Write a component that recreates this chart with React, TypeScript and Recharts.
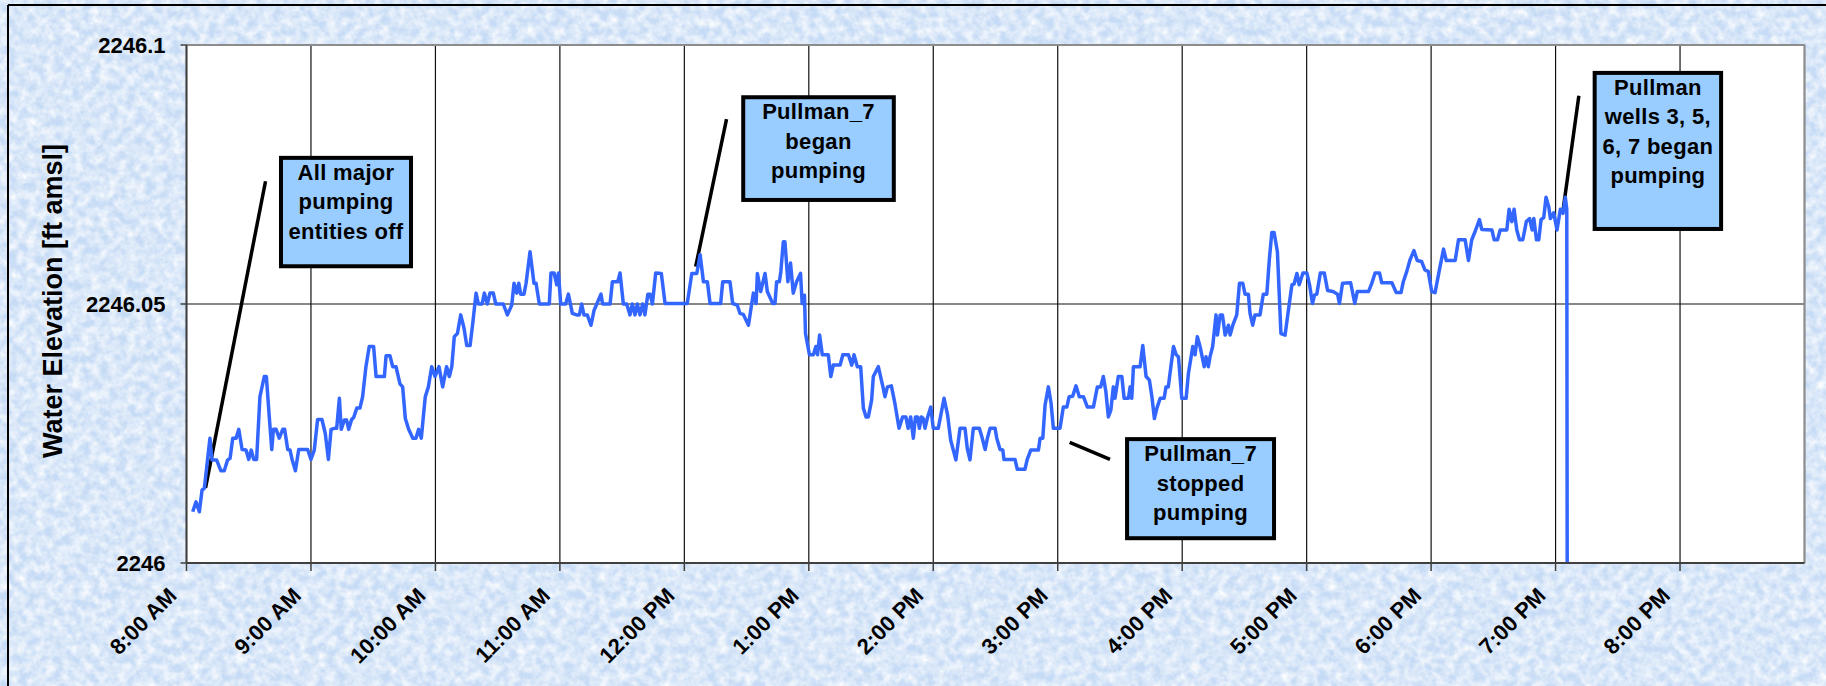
import React from 'react';
import { LineChart, Line, XAxis, YAxis, CartesianGrid, ReferenceLine, ReferenceArea } from 'recharts';

const FONT = '"Liberation Sans", Arial, Helvetica, sans-serif';

const hourTicks = [8, 9, 10, 11, 12, 13, 14, 15, 16, 17, 18, 19, 20];
const hourLabels = [
  '8:00 AM', '9:00 AM', '10:00 AM', '11:00 AM', '12:00 PM', '1:00 PM', '2:00 PM',
  '3:00 PM', '4:00 PM', '5:00 PM', '6:00 PM', '7:00 PM', '8:00 PM',
];
const elevTicks = [2246, 2246.05, 2246.1];
const elevLabels = ['2246', '2246.05', '2246.1'];

// [minutes after 8:00 AM, water elevation ft amsl]
const morning: [number, number][] = [
  [3.0, 2246.0099], [4.6, 2246.0118], [6.2, 2246.0099], [7.5, 2246.0141], [8.6, 2246.0144],
  [11.3, 2246.0241], [12.3, 2246.0199], [14.5, 2246.0199], [16.6, 2246.0178], [18.2, 2246.0178],
  [19.8, 2246.0199], [21.0, 2246.0202], [22.3, 2246.0241], [23.9, 2246.0241], [25.2, 2246.0258],
  [26.8, 2246.0219], [28.7, 2246.0218], [30.0, 2246.02], [31.2, 2246.0218], [32.4, 2246.02],
  [33.8, 2246.02], [35.4, 2246.0321], [37.5, 2246.036], [38.5, 2246.036], [39.9, 2246.0282],
  [41.1, 2246.0219], [41.9, 2246.0258], [43.2, 2246.0258], [44.7, 2246.0241], [46.4, 2246.0258],
  [47.3, 2246.0258], [48.8, 2246.0219], [49.9, 2246.0218], [50.9, 2246.02], [52.5, 2246.0178],
  [54.1, 2246.0219], [58.4, 2246.0219], [60.0, 2246.02], [61.6, 2246.0218], [63.2, 2246.0277],
  [65.3, 2246.0277], [66.9, 2246.025], [68.4, 2246.02], [69.7, 2246.0258], [71.3, 2246.026],
  [72.4, 2246.026], [73.7, 2246.0318], [74.6, 2246.0258], [76.1, 2246.0276], [77.2, 2246.0276],
  [78.2, 2246.0258], [79.6, 2246.0277], [80.6, 2246.0281], [82.1, 2246.0299], [83.6, 2246.0299],
  [84.9, 2246.0321], [86.5, 2246.0379], [88.1, 2246.0418], [90.2, 2246.0418], [91.4, 2246.036],
  [95.4, 2246.036], [96.2, 2246.04], [98.1, 2246.04], [99.4, 2246.0379], [101.0, 2246.0379],
  [102.9, 2246.0346], [104.2, 2246.034], [105.5, 2246.0279], [107.1, 2246.0258], [109.1, 2246.0241],
  [110.6, 2246.0241], [111.9, 2246.0258], [113.2, 2246.0241], [115.1, 2246.0321], [116.6, 2246.034],
  [118.2, 2246.0379],
];

const midday: [number, number][] = [
  [119.8, 2246.036], [121.7, 2246.0379], [123.5, 2246.034], [125.4, 2246.0379], [126.7, 2246.036],
  [127.9, 2246.0379], [129.1, 2246.0437], [130.6, 2246.0443], [132.2, 2246.0479], [133.8, 2246.0453],
  [135.1, 2246.042], [136.7, 2246.042], [138.0, 2246.0463], [139.6, 2246.0521], [140.7, 2246.05],
  [142.5, 2246.05], [143.6, 2246.0521], [145.0, 2246.05], [146.3, 2246.0521], [147.9, 2246.0521],
  [149.1, 2246.05], [152.7, 2246.05], [154.7, 2246.0479], [156.8, 2246.0498], [157.9, 2246.054],
  [159.2, 2246.0521], [160.2, 2246.054], [161.1, 2246.0519], [162.7, 2246.0519], [163.7, 2246.054],
  [165.6, 2246.0601], [167.5, 2246.054], [168.5, 2246.054], [170.1, 2246.05], [174.9, 2246.05],
  [175.7, 2246.056], [177.2, 2246.056], [178.5, 2246.0537], [179.3, 2246.056], [180.4, 2246.05],
  [182.8, 2246.05], [184.1, 2246.0519], [186.0, 2246.0482], [188.1, 2246.0479], [189.4, 2246.0479],
  [190.5, 2246.05], [191.6, 2246.0479], [193.2, 2246.0479], [195.0, 2246.0459], [196.5, 2246.0488],
  [197.8, 2246.05], [199.8, 2246.0519], [200.6, 2246.05], [204.2, 2246.05], [205.3, 2246.0543],
  [207.9, 2246.0543], [209.0, 2246.056], [210.6, 2246.05], [212.2, 2246.05], [213.8, 2246.0479],
  [214.9, 2246.05], [216.2, 2246.0479], [217.3, 2246.05], [218.6, 2246.0479], [219.9, 2246.05],
  [221.0, 2246.0479], [222.4, 2246.0519], [223.5, 2246.0519], [224.6, 2246.05], [226.2, 2246.056],
  [228.9, 2246.0559], [230.7, 2246.0501], [241.4, 2246.0501], [243.6, 2246.0559], [246.0, 2246.0559],
  [247.6, 2246.0595], [249.2, 2246.0543], [251.1, 2246.0543], [252.4, 2246.0501], [257.5, 2246.0501],
  [258.5, 2246.0543], [262.0, 2246.0543], [263.3, 2246.0501], [265.5, 2246.0498], [266.8, 2246.0482],
  [268.4, 2246.048], [270.9, 2246.0459], [272.5, 2246.0501], [273.3, 2246.0521], [274.6, 2246.0501],
  [275.2, 2246.0559], [276.8, 2246.0524], [278.9, 2246.0559], [280.0, 2246.0524], [282.6, 2246.0501],
  [283.7, 2246.0501], [284.5, 2246.0543], [285.8, 2246.0543], [286.5, 2246.0562], [287.7, 2246.062],
  [288.5, 2246.062], [289.9, 2246.0543], [291.2, 2246.0579], [292.5, 2246.0521], [294.1, 2246.0543],
  [296.0, 2246.0559], [296.8, 2246.0501], [297.9, 2246.0517],
];

const afternoon: [number, number][] = [
  [298.4, 2246.0443], [300.3, 2246.0402], [302.2, 2246.0402], [303.4, 2246.0418], [304.2, 2246.0402],
  [305.2, 2246.044], [306.5, 2246.0402], [309.4, 2246.0402], [310.6, 2246.036], [311.8, 2246.0382],
  [315.1, 2246.0382], [316.4, 2246.0402], [319.1, 2246.0402], [320.7, 2246.0382], [321.8, 2246.0402],
  [323.4, 2246.0379], [325.0, 2246.0379], [326.3, 2246.0299], [327.6, 2246.0282], [328.7, 2246.0282],
  [330.3, 2246.0315], [331.1, 2246.036], [333.5, 2246.0379], [335.9, 2246.0337], [336.7, 2246.0321],
  [337.9, 2246.034], [339.8, 2246.0342], [341.5, 2246.0308], [343.5, 2246.026], [345.2, 2246.0282],
  [346.8, 2246.0282], [347.9, 2246.026], [349.1, 2246.0282], [350.4, 2246.0241], [351.4, 2246.0282],
  [352.5, 2246.0282], [353.3, 2246.026], [354.3, 2246.0282], [355.2, 2246.0279], [356.0, 2246.026],
  [357.3, 2246.0282], [358.8, 2246.0301], [360.0, 2246.026], [362.4, 2246.026], [365.2, 2246.0318],
  [366.9, 2246.0286], [368.4, 2246.0237], [370.9, 2246.0199], [372.9, 2246.026], [375.3, 2246.026],
  [376.4, 2246.0221], [377.7, 2246.0199], [379.3, 2246.026], [382.2, 2246.026], [383.4, 2246.0244],
  [385.0, 2246.0219], [386.1, 2246.0241], [387.4, 2246.026], [389.8, 2246.026], [390.6, 2246.0241],
  [392.2, 2246.0219], [393.5, 2246.0218], [394.1, 2246.02], [399.4, 2246.02], [400.5, 2246.0181],
  [404.2, 2246.0181], [405.3, 2246.02], [407.0, 2246.0218], [410.7, 2246.0218], [411.5, 2246.0241],
  [412.8, 2246.0241], [413.9, 2246.0305], [415.5, 2246.034], [416.8, 2246.0308], [417.9, 2246.026],
  [421.1, 2246.026], [422.7, 2246.0301], [424.4, 2246.0301], [425.5, 2246.0321], [427.2, 2246.0322],
  [428.8, 2246.0342], [430.4, 2246.0321], [432.4, 2246.0321], [434.3, 2246.0301], [437.2, 2246.0301],
  [439.1, 2246.034], [440.7, 2246.034], [442.0, 2246.036], [443.2, 2246.0331], [444.4, 2246.0282],
  [445.6, 2246.0295], [446.8, 2246.034], [447.6, 2246.0318], [449.2, 2246.036],
];

const evening: [number, number][] = [
  [450.9, 2246.036], [452.0, 2246.0318], [454.1, 2246.0318], [454.9, 2246.034], [455.7, 2246.0318],
  [456.5, 2246.0379], [459.7, 2246.0379], [461.0, 2246.042], [462.6, 2246.036], [464.2, 2246.0353],
  [465.4, 2246.0321], [466.6, 2246.0279], [467.8, 2246.0299], [469.4, 2246.0318], [471.3, 2246.0318],
  [472.2, 2246.034], [473.3, 2246.034], [475.8, 2246.0418], [477.1, 2246.0402], [478.2, 2246.0398],
  [479.8, 2246.0318], [481.9, 2246.0318], [483.0, 2246.0366], [485.1, 2246.0418], [486.2, 2246.0402],
  [487.3, 2246.0437], [488.6, 2246.0418], [490.6, 2246.0379], [491.5, 2246.0398], [492.6, 2246.0379],
  [493.4, 2246.0398], [494.7, 2246.0418], [496.3, 2246.0479], [497.0, 2246.044], [498.3, 2246.0479],
  [499.4, 2246.0479], [500.7, 2246.044], [502.3, 2246.0459], [503.1, 2246.044], [504.4, 2246.0459],
  [506.3, 2246.0479], [507.6, 2246.054], [509.2, 2246.054], [510.3, 2246.0519], [511.9, 2246.0519],
  [512.7, 2246.0482], [514.0, 2246.0459], [515.1, 2246.0479], [517.5, 2246.0479], [519.1, 2246.0519],
  [520.8, 2246.0519], [522.0, 2246.0585], [523.2, 2246.0638], [524.3, 2246.0638], [525.9, 2246.0601],
  [527.6, 2246.0443], [529.6, 2246.044], [531.2, 2246.0488], [532.9, 2246.0537], [534.0, 2246.0539],
  [535.3, 2246.0559], [536.4, 2246.0537], [538.2, 2246.056], [540.1, 2246.056], [541.4, 2246.0537],
  [542.8, 2246.0501], [543.8, 2246.0517], [544.9, 2246.0519], [546.6, 2246.056], [548.5, 2246.056],
  [550.1, 2246.0526], [552.7, 2246.0524], [554.9, 2246.0519], [555.8, 2246.0501], [557.3, 2246.054],
  [561.2, 2246.0541], [563.2, 2246.0501], [564.4, 2246.0524], [569.8, 2246.0524], [571.4, 2246.054],
  [573.0, 2246.056], [575.1, 2246.056], [576.2, 2246.0541], [581.1, 2246.0541], [583.2, 2246.0522],
  [585.5, 2246.0522], [586.6, 2246.0543], [588.2, 2246.0562], [589.8, 2246.0585], [591.7, 2246.0603],
  [593.3, 2246.0584], [595.4, 2246.0582], [597.0, 2246.0566], [598.6, 2246.0563], [600.3, 2246.0524],
  [601.9, 2246.0522], [604.0, 2246.0566], [606.0, 2246.0606], [607.3, 2246.0584], [611.6, 2246.0584],
  [613.2, 2246.0624], [616.4, 2246.0624], [618.0, 2246.0584], [619.6, 2246.0624], [621.2, 2246.064],
  [623.3, 2246.0663], [624.4, 2246.0644], [629.3, 2246.0643], [630.4, 2246.0624], [632.0, 2246.0624],
  [633.3, 2246.0643], [636.5, 2246.0643], [637.6, 2246.0683], [638.9, 2246.0659], [640.0, 2246.0683],
  [641.3, 2246.0643], [642.6, 2246.0624], [644.2, 2246.0624], [645.9, 2246.0659], [647.5, 2246.0665],
  [648.7, 2246.0643], [649.5, 2246.0665], [650.8, 2246.0624], [651.9, 2246.0624], [653.0, 2246.0663],
  [654.3, 2246.0667], [655.4, 2246.0706], [656.7, 2246.0688], [657.5, 2246.0665], [659.1, 2246.0676],
  [660.7, 2246.0643], [662.3, 2246.0683], [663.6, 2246.0675], [664.7, 2246.0706], [665.4, 2246.0683],
  [665.6, 2246.0],
];

const data = [...morning, ...midday, ...afternoon, ...evening].map(([m, v]) => ({
  hour: 8 + m / 60,
  elev: v,
}));

// callout boxes (hours, ft) and their text
const calloutText = [
  ['All major', 'pumping', 'entities off'],
  ['Pullman_7', 'began', 'pumping'],
  ['Pullman_7', 'stopped', 'pumping'],
  ['Pullman', 'wells 3, 5,', '6, 7 began', 'pumping'],
];
const calloutBoxes = [
  { x1: 8.743, x2: 9.82, y1: 2246.0569, y2: 2246.0786 },
  { x1: 12.457, x2: 13.699, y1: 2246.0697, y2: 2246.0903 },
  { x1: 15.541, x2: 16.754, y1: 2246.0044, y2: 2246.0243 },
  { x1: 19.298, x2: 20.346, y1: 2246.0641, y2: 2246.095 },
];
const leaderLines = [
  [{ x: 8.635, y: 2246.0737 }, { x: 8.153, y: 2246.0145 }],
  [{ x: 12.339, y: 2246.0857 }, { x: 12.091, y: 2246.0572 }],
  [{ x: 15.096, y: 2246.0233 }, { x: 15.42, y: 2246.02 }],
  [{ x: 19.187, y: 2246.0902 }, { x: 19.06, y: 2246.0681 }],
];

const textStyle = { fontFamily: FONT, fontWeight: 700, fill: '#000' };

const calloutShape = (lines: string[]) => (props: any) => {
  const { x, y, width, height } = props;
  return (
    <g>
      <rect x={x + 2} y={y + 2} width={width - 4} height={height - 4} fill="#99ccff" stroke="#000" strokeWidth={4} />
      {lines.map((t, i) => (
        <text
          key={i}
          x={x + width / 2}
          y={y + 24 + i * 29.5}
          textAnchor="middle"
          fontSize={22}
          letterSpacing={0.3}
          {...textStyle}
        >
          {t}
        </text>
      ))}
    </g>
  );
};

function HourTick(props: any) {
  const { x, y, payload } = props;
  const label = hourLabels[hourTicks.indexOf(payload.value)];
  return (
    <text transform={`translate(${x - 8.5},${y + 24}) rotate(-45)`} textAnchor="end" fontSize={22} {...textStyle}>
      {label}
    </text>
  );
}

function YTitle(props: any) {
  const vb = props.viewBox || { x: 86.5, y: 45, width: 100, height: 518 };
  const cx = vb.x - 25;
  const cy = vb.y + vb.height / 2 - 3;
  return (
    <text transform={`translate(${cx},${cy}) rotate(-90)`} textAnchor="middle" fontSize={27} {...textStyle}>
      Water Elevation [ft amsl]
    </text>
  );
}

export default function App() {
  return (
    <div style={{ position: 'absolute', left: 0, top: 0, width: 1826, height: 686, overflow: 'hidden' }}>
      <svg width={1826} height={686} style={{ position: 'absolute', left: 0, top: 0 }}>
        <defs>
          <filter id="paper" x="0" y="0" width="100%" height="100%">
            <feTurbulence type="fractalNoise" baseFrequency="0.11" numOctaves={3} seed={7} />
            <feColorMatrix type="matrix" values="0 0 0 0 1  0 0 0 0 1  0 0 0 0 1  1.5 0 0 0 -0.4" />
          </filter>
        </defs>
        <rect width={1826} height={686} fill="#c6dbf5" />
        <rect width={1826} height={686} filter="url(#paper)" />
        <line x1={8} y1={5} x2={1826} y2={5} stroke="#000" strokeWidth={2} />
        <line x1={8} y1={5} x2={8} y2={686} stroke="#000" strokeWidth={2} />
      </svg>
      <div style={{ position: 'absolute', left: 0, top: 0 }}>
        <LineChart width={1826} height={686} data={data} margin={{ top: 45, right: 21.5, bottom: 23, left: 86.5 }}>
          <CartesianGrid stroke="#111111" strokeWidth={1.2} fill="#ffffff" fillOpacity={1} />
          <XAxis
            dataKey="hour"
            type="number"
            domain={[8, 21]}
            ticks={hourTicks}
            allowDataOverflow
            height={100}
            tickSize={8}
            tickMargin={2}
            tick={<HourTick />}
            axisLine={{ stroke: '#404040', strokeWidth: 2 }}
            tickLine={{ stroke: '#404040', strokeWidth: 1.5 }}
            interval={0}
          />
          <YAxis
            type="number"
            domain={[2246, 2246.1]}
            ticks={elevTicks}
            allowDataOverflow
            width={100}
            tickSize={6}
            tickMargin={15}
            tickFormatter={(v: number) => elevLabels[elevTicks.indexOf(v)] ?? String(v)}
            tick={{ fontSize: 22, fontWeight: 700, fill: '#000', fontFamily: FONT }}
            axisLine={{ stroke: '#404040', strokeWidth: 2 }}
            tickLine={{ stroke: '#404040', strokeWidth: 1.5 }}
            label={YTitle}
            interval={0}
          />
          <ReferenceLine y={2246.1} stroke="#8c8c8c" strokeWidth={2} />
          <ReferenceLine x={21} stroke="#8c8c8c" strokeWidth={2} />
          {calloutBoxes.map((b, i) => (
            <ReferenceArea
              key={`box-${i}`}
              x1={b.x1}
              x2={b.x2}
              y1={b.y1}
              y2={b.y2}
              shape={calloutShape(calloutText[i])}
              ifOverflow="visible"
            />
          ))}
          {leaderLines.map((seg, i) => (
            <ReferenceLine key={`lead-${i}`} segment={seg} stroke="#000" strokeWidth={3.5} ifOverflow="visible" />
          ))}
          <Line
            type="linear"
            dataKey="elev"
            stroke="#3366ff"
            strokeWidth={3.5}
            dot={false}
            activeDot={false}
            strokeLinejoin="round"
            isAnimationActive={false}
          />
        </LineChart>
      </div>
    </div>
  );
}
